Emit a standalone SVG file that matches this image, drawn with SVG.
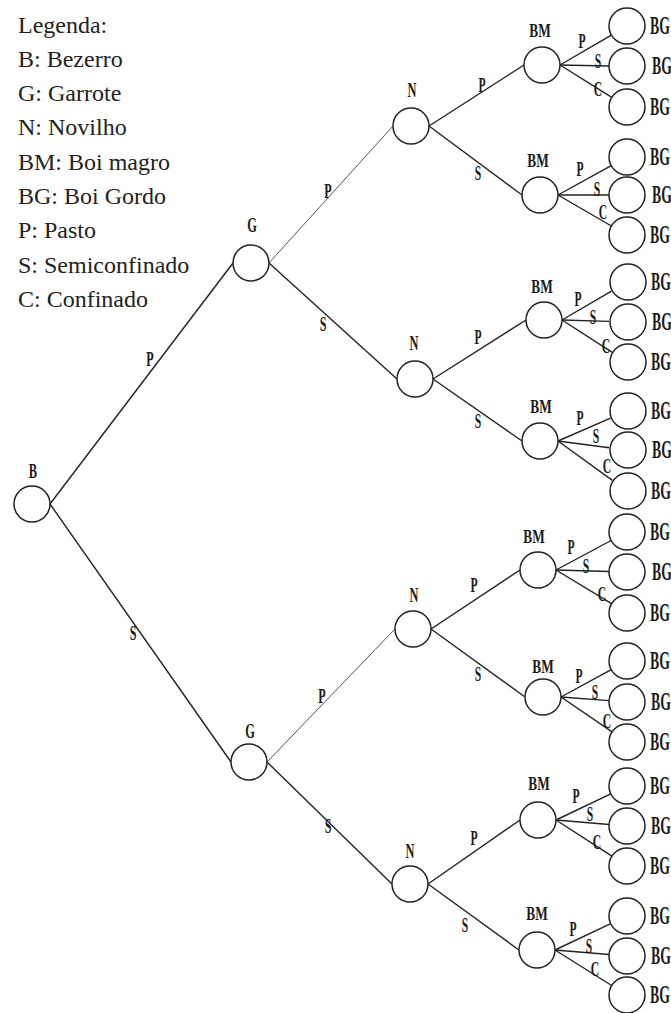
<svg xmlns="http://www.w3.org/2000/svg" width="671" height="1013" viewBox="0 0 671 1013">
  <style>
    .node { fill: #fff; stroke: #222; stroke-width: 1.5; }
    .edge { stroke: #222; stroke-width: 1.4; fill: none; }
    .edge.thin { stroke: #555; stroke-width: 1; }
    .lb { font-family: "Liberation Serif", "Times New Roman", serif; font-size: 20px; font-weight: bold; text-anchor: middle; fill: #1a1a1a; }
    .big { font-size: 22px; }
    .bm { font-size: 19px; }
    .bg { font-size: 25px; text-anchor: start; }
    .lg { font-family: "Liberation Serif", "Times New Roman", serif; font-size: 24px; fill: #222; }
  </style>

  <rect width="671" height="1013" fill="#fff"/>

  <!-- legend -->
  <g id="legend">
    <text class="lg" x="18" y="33">Legenda:</text>
    <text class="lg" x="18" y="67">B: Bezerro</text>
    <text class="lg" x="18" y="101">G: Garrote</text>
    <text class="lg" x="18" y="135">N: Novilho</text>
    <text class="lg" x="18" y="170">BM: Boi magro</text>
    <text class="lg" x="18" y="204">BG: Boi Gordo</text>
    <text class="lg" x="18" y="238">P: Pasto</text>
    <text class="lg" x="18" y="273">S: Semiconfinado</text>
    <text class="lg" x="18" y="307">C: Confinado</text>
  </g>

  <!-- connectors: right side of parent to left side of child -->
  <g id="connectors">
    <line class="edge" x1="50" y1="504" x2="233" y2="263"/>
    <line class="edge" x1="50" y1="504" x2="231" y2="762"/>
    <line class="edge thin" x1="269" y1="263" x2="393" y2="126"/>
    <line class="edge" x1="269" y1="263" x2="397" y2="379"/>
    <line class="edge thin" x1="267" y1="762" x2="395" y2="629"/>
    <line class="edge" x1="267" y1="762" x2="392" y2="884"/>
    <line class="edge" x1="429" y1="126" x2="524" y2="65"/>
    <line class="edge" x1="429" y1="126" x2="522" y2="195"/>
    <line class="edge" x1="433" y1="379" x2="526" y2="320"/>
    <line class="edge" x1="433" y1="379" x2="522" y2="441"/>
    <line class="edge" x1="431" y1="629" x2="520" y2="570"/>
    <line class="edge" x1="431" y1="629" x2="525" y2="697"/>
    <line class="edge" x1="428" y1="884" x2="520" y2="820"/>
    <line class="edge" x1="428" y1="884" x2="519" y2="950"/>

    <line class="edge" x1="560" y1="65" x2="611.4" y2="35.1"/>
    <line class="edge" x1="560" y1="65" x2="609" y2="66"/>
    <line class="edge" x1="560" y1="65" x2="611.8" y2="97.4"/>
    <line class="edge" x1="558" y1="195" x2="611.2" y2="165.7"/>
    <line class="edge" x1="558" y1="195" x2="609" y2="195"/>
    <line class="edge" x1="558" y1="195" x2="611.4" y2="226"/>
    <line class="edge" x1="562" y1="320" x2="611.5" y2="291.1"/>
    <line class="edge" x1="562" y1="320" x2="609" y2="321.4"/>
    <line class="edge" x1="562" y1="320" x2="611.9" y2="352.2"/>
    <line class="edge" x1="558" y1="441" x2="610.5" y2="418.2"/>
    <line class="edge" x1="558" y1="441" x2="609.2" y2="447.7"/>
    <line class="edge" x1="558" y1="441" x2="612.4" y2="480.4"/>
    <line class="edge" x1="556" y1="570" x2="611.1" y2="540.5"/>
    <line class="edge" x1="556" y1="570" x2="609" y2="571.5"/>
    <line class="edge" x1="556" y1="570" x2="611.6" y2="603.7"/>
    <line class="edge" x1="561" y1="697" x2="611.2" y2="669.6"/>
    <line class="edge" x1="561" y1="697" x2="609" y2="700.6"/>
    <line class="edge" x1="561" y1="697" x2="612.1" y2="731.9"/>
    <line class="edge" x1="556" y1="820" x2="610.8" y2="793.8"/>
    <line class="edge" x1="556" y1="820" x2="609.1" y2="824.5"/>
    <line class="edge" x1="556" y1="820" x2="611.9" y2="856.2"/>
    <line class="edge" x1="555" y1="950" x2="610.7" y2="923.7"/>
    <line class="edge" x1="555" y1="950" x2="609.1" y2="954.5"/>
    <line class="edge" x1="555" y1="950" x2="611.7" y2="985.5"/>

    <!-- connector labels -->
    <text class="lb big" transform="translate(150 366) scale(0.55 1)">P</text>
    <text class="lb big" transform="translate(133 640) scale(0.55 1)">S</text>
    <text class="lb big" transform="translate(328 198) scale(0.55 1)">P</text>
    <text class="lb big" transform="translate(323 331) scale(0.55 1)">S</text>
    <text class="lb big" transform="translate(322 703) scale(0.55 1)">P</text>
    <text class="lb big" transform="translate(328 833) scale(0.55 1)">S</text>
    <text class="lb" transform="translate(482 92) scale(0.58 1)">P</text>
    <text class="lb" transform="translate(478 180) scale(0.58 1)">S</text>
    <text class="lb" transform="translate(478 344) scale(0.58 1)">P</text>
    <text class="lb" transform="translate(478 428) scale(0.58 1)">S</text>
    <text class="lb" transform="translate(474 592) scale(0.58 1)">P</text>
    <text class="lb" transform="translate(478 681) scale(0.58 1)">S</text>
    <text class="lb" transform="translate(474 845) scale(0.58 1)">P</text>
    <text class="lb" transform="translate(465 932) scale(0.58 1)">S</text>

    <text class="lb" transform="translate(582 48) scale(0.58 1)">P</text>
    <text class="lb" transform="translate(598 68) scale(0.58 1)">S</text>
    <text class="lb" transform="translate(598 96) scale(0.58 1)">C</text>
    <text class="lb" transform="translate(580 176) scale(0.58 1)">P</text>
    <text class="lb" transform="translate(597 196) scale(0.58 1)">S</text>
    <text class="lb" transform="translate(603 219) scale(0.58 1)">C</text>
    <text class="lb" transform="translate(578 306) scale(0.58 1)">P</text>
    <text class="lb" transform="translate(593 324) scale(0.58 1)">S</text>
    <text class="lb" transform="translate(606 353) scale(0.58 1)">C</text>
    <text class="lb" transform="translate(580 425) scale(0.58 1)">P</text>
    <text class="lb" transform="translate(596 443) scale(0.58 1)">S</text>
    <text class="lb" transform="translate(607 473) scale(0.58 1)">C</text>
    <text class="lb" transform="translate(571 554) scale(0.58 1)">P</text>
    <text class="lb" transform="translate(586 573) scale(0.58 1)">S</text>
    <text class="lb" transform="translate(602 601) scale(0.58 1)">C</text>
    <text class="lb" transform="translate(579 683) scale(0.58 1)">P</text>
    <text class="lb" transform="translate(595 699) scale(0.58 1)">S</text>
    <text class="lb" transform="translate(607 728) scale(0.58 1)">C</text>
    <text class="lb" transform="translate(576 803) scale(0.58 1)">P</text>
    <text class="lb" transform="translate(590 821) scale(0.58 1)">S</text>
    <text class="lb" transform="translate(597 849) scale(0.58 1)">C</text>
    <text class="lb" transform="translate(573 936) scale(0.58 1)">P</text>
    <text class="lb" transform="translate(589 953) scale(0.58 1)">S</text>
    <text class="lb" transform="translate(595 976) scale(0.58 1)">C</text>
  </g>

  <!-- root -->
  <g id="node-b">
    <circle class="node" cx="32" cy="504" r="18"/>
    <text class="lb" transform="translate(33 478) scale(0.62 1)">B</text>
  </g>

  <!-- garrote -->
  <g id="node-g1">
    <circle class="node" cx="251" cy="263" r="18"/>
    <text class="lb" transform="translate(252 232) scale(0.62 1)">G</text>
  </g>
  <g id="node-g2">
    <circle class="node" cx="249" cy="762" r="18"/>
    <text class="lb" transform="translate(250 738) scale(0.62 1)">G</text>
  </g>

  <!-- novilho -->
  <g id="node-n1">
    <circle class="node" cx="411" cy="126" r="18"/>
    <text class="lb" transform="translate(412 97) scale(0.62 1)">N</text>
  </g>
  <g id="node-n2">
    <circle class="node" cx="415" cy="379" r="18"/>
    <text class="lb" transform="translate(414 350) scale(0.62 1)">N</text>
  </g>
  <g id="node-n3">
    <circle class="node" cx="413" cy="629" r="18"/>
    <text class="lb" transform="translate(414 602) scale(0.62 1)">N</text>
  </g>
  <g id="node-n4">
    <circle class="node" cx="410" cy="884" r="18"/>
    <text class="lb" transform="translate(410 858) scale(0.62 1)">N</text>
  </g>

  <!-- boi magro -->
  <g id="node-bm1">
    <circle class="node" cx="542" cy="65" r="18"/>
    <text class="lb bm" transform="translate(540 37) scale(0.7 1)">BM</text>
  </g>
  <g id="node-bm2">
    <circle class="node" cx="540" cy="195" r="18"/>
    <text class="lb bm" transform="translate(538 167) scale(0.7 1)">BM</text>
  </g>
  <g id="node-bm3">
    <circle class="node" cx="544" cy="320" r="18"/>
    <text class="lb bm" transform="translate(542 293) scale(0.7 1)">BM</text>
  </g>
  <g id="node-bm4">
    <circle class="node" cx="540" cy="441" r="18"/>
    <text class="lb bm" transform="translate(541 413) scale(0.7 1)">BM</text>
  </g>
  <g id="node-bm5">
    <circle class="node" cx="538" cy="570" r="18"/>
    <text class="lb bm" transform="translate(534 543) scale(0.7 1)">BM</text>
  </g>
  <g id="node-bm6">
    <circle class="node" cx="543" cy="697" r="18"/>
    <text class="lb bm" transform="translate(543 673) scale(0.7 1)">BM</text>
  </g>
  <g id="node-bm7">
    <circle class="node" cx="538" cy="820" r="18"/>
    <text class="lb bm" transform="translate(539 790) scale(0.7 1)">BM</text>
  </g>
  <g id="node-bm8">
    <circle class="node" cx="537" cy="950" r="18"/>
    <text class="lb bm" transform="translate(537 920) scale(0.7 1)">BM</text>
  </g>

  <!-- boi gordo -->
  <g id="node-bg1"><circle class="node" cx="627" cy="26" r="18"/><text class="lb bg" transform="translate(650 34) scale(0.55 1)">BG</text></g>
  <g id="node-bg2"><circle class="node" cx="627" cy="66" r="18"/><text class="lb bg" transform="translate(652 74) scale(0.55 1)">BG</text></g>
  <g id="node-bg3"><circle class="node" cx="627" cy="107" r="18"/><text class="lb bg" transform="translate(650 115) scale(0.55 1)">BG</text></g>
  <g id="node-bg4"><circle class="node" cx="627" cy="157" r="18"/><text class="lb bg" transform="translate(650 165) scale(0.55 1)">BG</text></g>
  <g id="node-bg5"><circle class="node" cx="627" cy="195" r="18"/><text class="lb bg" transform="translate(652 203) scale(0.55 1)">BG</text></g>
  <g id="node-bg6"><circle class="node" cx="627" cy="235" r="18"/><text class="lb bg" transform="translate(650 243) scale(0.55 1)">BG</text></g>
  <g id="node-bg7"><circle class="node" cx="628" cy="282" r="18"/><text class="lb bg" transform="translate(651 290) scale(0.55 1)">BG</text></g>
  <g id="node-bg8"><circle class="node" cx="628" cy="322" r="18"/><text class="lb bg" transform="translate(652 330) scale(0.55 1)">BG</text></g>
  <g id="node-bg9"><circle class="node" cx="628" cy="362" r="18"/><text class="lb bg" transform="translate(651 370) scale(0.55 1)">BG</text></g>
  <g id="node-bg10"><circle class="node" cx="628" cy="411" r="18"/><text class="lb bg" transform="translate(651 419) scale(0.55 1)">BG</text></g>
  <g id="node-bg11"><circle class="node" cx="628" cy="450" r="18"/><text class="lb bg" transform="translate(652 458) scale(0.55 1)">BG</text></g>
  <g id="node-bg12"><circle class="node" cx="628" cy="491" r="18"/><text class="lb bg" transform="translate(651 499) scale(0.55 1)">BG</text></g>
  <g id="node-bg13"><circle class="node" cx="627" cy="532" r="18"/><text class="lb bg" transform="translate(650 540) scale(0.55 1)">BG</text></g>
  <g id="node-bg14"><circle class="node" cx="627" cy="572" r="18"/><text class="lb bg" transform="translate(652 580) scale(0.55 1)">BG</text></g>
  <g id="node-bg15"><circle class="node" cx="627" cy="613" r="18"/><text class="lb bg" transform="translate(650 621) scale(0.55 1)">BG</text></g>
  <g id="node-bg16"><circle class="node" cx="627" cy="661" r="18"/><text class="lb bg" transform="translate(650 669) scale(0.55 1)">BG</text></g>
  <g id="node-bg17"><circle class="node" cx="627" cy="702" r="18"/><text class="lb bg" transform="translate(651 710) scale(0.55 1)">BG</text></g>
  <g id="node-bg18"><circle class="node" cx="627" cy="742" r="18"/><text class="lb bg" transform="translate(650 750) scale(0.55 1)">BG</text></g>
  <g id="node-bg19"><circle class="node" cx="627" cy="786" r="18"/><text class="lb bg" transform="translate(650 794) scale(0.55 1)">BG</text></g>
  <g id="node-bg20"><circle class="node" cx="627" cy="826" r="18"/><text class="lb bg" transform="translate(651 834) scale(0.55 1)">BG</text></g>
  <g id="node-bg21"><circle class="node" cx="627" cy="866" r="18"/><text class="lb bg" transform="translate(650 874) scale(0.55 1)">BG</text></g>
  <g id="node-bg22"><circle class="node" cx="627" cy="916" r="18"/><text class="lb bg" transform="translate(650 924) scale(0.55 1)">BG</text></g>
  <g id="node-bg23"><circle class="node" cx="627" cy="956" r="18"/><text class="lb bg" transform="translate(651 964) scale(0.55 1)">BG</text></g>
  <g id="node-bg24"><circle class="node" cx="627" cy="995" r="18"/><text class="lb bg" transform="translate(650 1003) scale(0.55 1)">BG</text></g>
</svg>
